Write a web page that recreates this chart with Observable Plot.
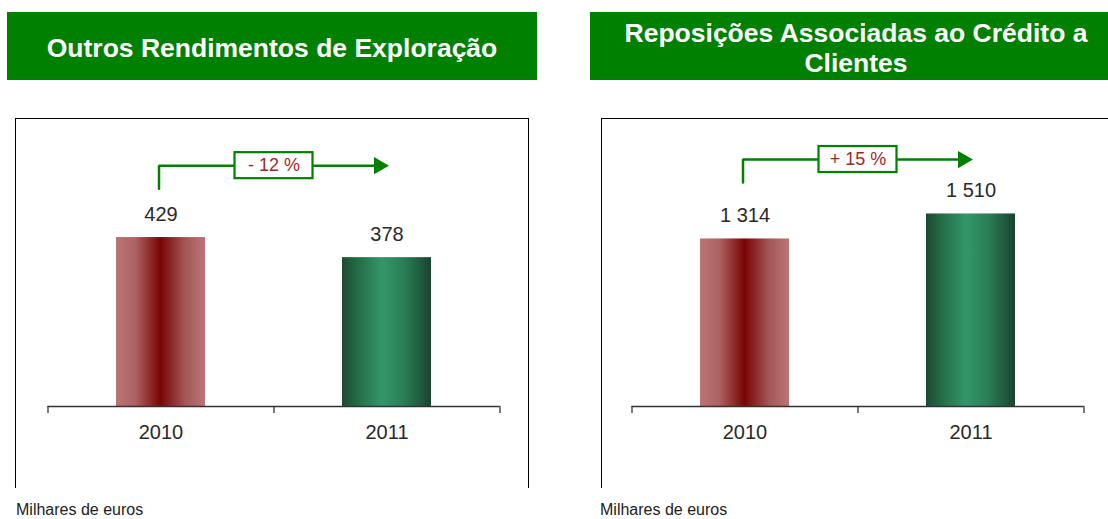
<!DOCTYPE html>
<html>
<head>
<meta charset="utf-8">
<script src="https://cdn.jsdelivr.net/npm/d3@7"></script>
<script src="https://cdn.jsdelivr.net/npm/@observablehq/plot@0.6"></script>
<style>
  html, body { margin: 0; padding: 0; background: #fff; }
  body { width: 1108px; height: 519px; overflow: hidden; position: relative; font-family: "Liberation Sans", Arial, sans-serif; }
  .title { position: absolute; top: 12px; height: 68px; background: #008000; color: #fff; font-weight: bold; font-size: 26.5px; line-height: 30px; display: flex; align-items: center; justify-content: center; text-align: center; box-sizing: border-box; padding: 3px 8px 0 8px; }
  .box { position: absolute; top: 118px; width: 512px; height: 369px; border: 1px solid #000; border-bottom: none; overflow: hidden; }
  .box svg { display: block; }
  .note { position: absolute; top: 501px; font-size: 16px; line-height: 18px; color: #222; }
  #defs { position: absolute; width: 0; height: 0; left: 0; top: 0; }
</style>
</head>
<body>
<svg id="defs" width="0" height="0">
  <defs>
    <linearGradient id="gradRed" x1="0" x2="1" y1="0" y2="0">
      <stop offset="0" stop-color="#bb7474"/>
      <stop offset="0.22" stop-color="#ac6262"/>
      <stop offset="0.5" stop-color="#780404"/>
      <stop offset="0.78" stop-color="#a45858"/>
      <stop offset="1" stop-color="#bb7575"/>
    </linearGradient>
    <linearGradient id="gradGreen" x1="0" x2="1" y1="0" y2="0">
      <stop offset="0" stop-color="#1c4b33"/>
      <stop offset="0.2" stop-color="#247048"/>
      <stop offset="0.45" stop-color="#33976a"/>
      <stop offset="0.7" stop-color="#2a7d55"/>
      <stop offset="1" stop-color="#1a4330"/>
    </linearGradient>
  </defs>
</svg>

<div class="title" id="t1" style="left:7px; width:530px;"></div>
<div class="title" id="t2" style="left:590px; width:532px;"></div>
<div class="box" id="b1" style="left:15px;"></div>
<div class="box" id="b2" style="left:601px;"></div>
<div class="note" id="n1" style="left:16px;"></div>
<div class="note" id="n2" style="left:600px;"></div>

<script>
// ---- data ----
const years = [2010, 2011];
const outrosValues = [429, 378];
const reposicoesValues = [1314, 1510];
const titles = ["Outros Rendimentos de Exploração", "Reposições Associadas ao Crédito a Clientes"];
const changeLabels = ["- 12 %", "+ 15 %"];
const unitNote = "Milhares de euros";

// ---- helpers ----
const locale = d3.formatLocale({decimal: ",", thousands: " ", grouping: [3], currency: ["", " €"]});
const fmt = locale.format(",d");
const FONT = "'Liberation Sans', Arial, sans-serif";
const TEXT = "#2a2a2a";
const GREEN = "#008000";

function panel(values, change, opts) {
  const data = years.map((year, i) => ({year, value: values[i]}));
  const bounds = [years[0] - 0.5, ...years.map(y => y + 0.5)];
  const mid = (years[0] + years[1]) / 2;
  const halfBar = 0.197;
  const top = opts.yMax * opts.arrowLevel;
  const foot = opts.yMax * opts.arrowFoot;
  const arrowPath = [
    {x: years[0], y: foot},
    {x: years[0], y: top},
    {x: years[1], y: top}
  ];
  return Plot.plot({
    width: 512,
    height: 369,
    marginTop: 20,
    marginBottom: 82,
    marginLeft: opts.marginLeft,
    marginRight: opts.marginRight,
    style: {fontFamily: FONT, background: "transparent", overflow: "visible"},
    x: {type: "linear", domain: [bounds[0], bounds[bounds.length - 1]], axis: null},
    y: {domain: [0, opts.yMax], axis: null},
    color: {type: "ordinal", domain: years, range: ["url(#gradRed)", "url(#gradGreen)"]},
    marks: [
      Plot.rectY(data, {x1: d => d.year - halfBar, x2: d => d.year + halfBar, y: "value", fill: "year"}),
      Plot.ruleY([0], {stroke: "#333", strokeWidth: 1.5}),
      Plot.axisX({ticks: bounds, tickSize: 7, tickFormat: () => "", stroke: "#333", strokeWidth: 1.3}),
      Plot.text(data, {x: "year", y: "value", text: d => fmt(d.value), dy: -23, fontSize: 20, fill: TEXT}),
      Plot.text(data, {x: "year", y: () => 0, text: d => String(d.year), dy: 26, fontSize: 20, fill: TEXT}),
      Plot.line(arrowPath, {x: "x", y: "y", stroke: GREEN, strokeWidth: 2.5, strokeLinejoin: "miter", dx: -2}),
      Plot.dot([{x: years[1], y: top}], {x: "x", y: "y", symbol: "triangle", r: 6.4, rotate: 90, fill: GREEN, stroke: "none", dx: -8}),
      Plot.rect([{x: mid, y: top}], {x1: "x", x2: "x", y1: "y", y2: "y", insetLeft: -39, insetRight: -39, insetTop: -13, insetBottom: -13, fill: "white", stroke: GREEN, strokeWidth: 2.2}),
      Plot.text([{x: mid, y: top, label: change}], {x: "x", y: "y", text: "label", fontSize: 18, fill: "#a0282a"})
    ]
  });
}

document.getElementById("t1").textContent = titles[0];
document.getElementById("t2").textContent = titles[1];
document.getElementById("n1").textContent = unitNote;
document.getElementById("n2").textContent = unitNote;

document.getElementById("b1").appendChild(panel(outrosValues, changeLabels[0], {
  yMax: 678, arrowLevel: 0.902, arrowFoot: 0.816, marginLeft: 31.5, marginRight: 28.5
}));
document.getElementById("b2").appendChild(panel(reposicoesValues, changeLabels[1], {
  yMax: 2094, arrowLevel: 0.925, arrowFoot: 0.839, marginLeft: 29.5, marginRight: 30.5
}));
</script>
</body>
</html>
